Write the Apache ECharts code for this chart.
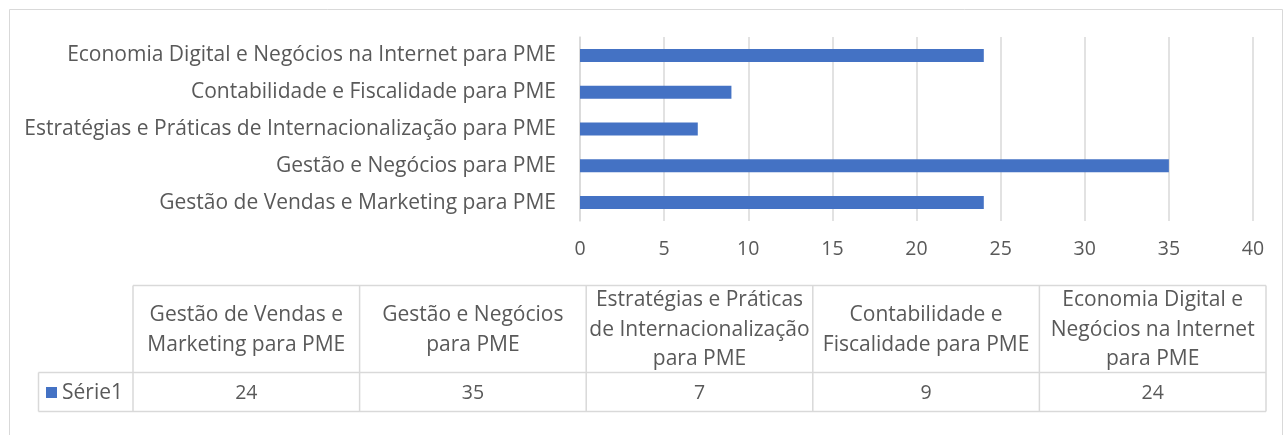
<!DOCTYPE html>
<html>
<head>
<meta charset="utf-8">
<script src="https://cdn.jsdelivr.net/npm/echarts@6/dist/echarts.min.js"></script>
<style>
html,body{margin:0;padding:0;background:#fff;}
#chart{width:1287px;height:435px;}
</style>
</head>
<body>
<div id="chart"></div>
<script>
// ---- data ----
const categories = [
  "Gestão de Vendas e Marketing para PME",
  "Gestão e Negócios para PME",
  "Estratégias e Práticas de Internacionalização para PME",
  "Contabilidade e Fiscalidade para PME",
  "Economia Digital e Negócios na Internet para PME"
];
const tableHeaders = [
  "Gestão de Vendas e\nMarketing para PME",
  "Gestão e Negócios\npara PME",
  "Estratégias e Práticas\nde Internacionalização\npara PME",
  "Contabilidade e\nFiscalidade para PME",
  "Economia Digital e\nNegócios na Internet\npara PME"
];
const seriesName = "Série1";
const values = [24, 35, 7, 9, 24];
const xTicks = [0, 5, 10, 15, 20, 25, 30, 35, 40];

// ---- styles / layout ----
const FONT = "Open Sans";
const FS_TXT = 21;
const FS_NUM = 19.5;
const TXT = "#595959";
const LINE = "#d9d9d9";
const BAR = "#4472c4";

const chart = echarts.init(document.getElementById('chart'), null, {renderer: 'canvas'});

const tLeft = 133, colW = 226.6, hTop = 285.5, hBot = 372.5, dBot = 411.5, legLeft = 38.5;
const g = [];
g.push({type:'rect', shape:{x:9.5,y:9.5,width:1273,height:440}, style:{fill:null, stroke:LINE, lineWidth:1}, silent:true});
const tRight = tLeft + colW * categories.length;
g.push({type:'line', shape:{x1:tLeft,y1:hTop,x2:tRight,y2:hTop}, style:{stroke:LINE,lineWidth:1.5}});
g.push({type:'line', shape:{x1:legLeft,y1:hBot,x2:tRight,y2:hBot}, style:{stroke:LINE,lineWidth:1.5}});
g.push({type:'line', shape:{x1:legLeft,y1:dBot,x2:tRight,y2:dBot}, style:{stroke:LINE,lineWidth:1.5}});
g.push({type:'line', shape:{x1:legLeft,y1:hBot,x2:legLeft,y2:dBot}, style:{stroke:LINE,lineWidth:1.5}});
for (let i = 0; i <= categories.length; i++) {
  const x = tLeft + colW * i;
  g.push({type:'line', shape:{x1:x,y1:hTop,x2:x,y2:dBot}, style:{stroke:LINE,lineWidth:1.5}});
}
tableHeaders.forEach((h, i) => {
  const cx = tLeft + colW * (i + 0.5);
  g.push({type:'text', x:cx, y:(hTop+hBot)/2 + 1, style:{text:h, fill:TXT, font:FS_TXT + 'px ' + FONT, align:'center', verticalAlign:'middle', lineHeight:29.5}});
  g.push({type:'text', x:cx, y:(hBot+dBot)/2 + 1, style:{text:String(values[i]), fill:TXT, font:FS_NUM + 'px ' + FONT, align:'center', verticalAlign:'middle'}});
});
g.push({type:'rect', shape:{x:46,y:(hBot+dBot)/2-5,width:11,height:11}, style:{fill:BAR}});
g.push({type:'text', x:62, y:(hBot+dBot)/2 + 1, style:{text:seriesName, fill:TXT, font:FS_TXT + 'px ' + FONT, align:'left', verticalAlign:'middle'}});

chart.setOption({
  animation: false,
  backgroundColor: '#fff',
  textStyle: {fontFamily: FONT},
  grid: {left: 580, right: 34, top: 37, height: 184, containLabel: false},
  xAxis: {
    type: 'value', min: xTicks[0], max: xTicks[xTicks.length-1], interval: xTicks[1]-xTicks[0],
    axisLine: {show: false}, axisTick: {show: false},
    splitLine: {show: true, lineStyle: {color: LINE, width: 1.5}},
    axisLabel: {color: TXT, fontSize: FS_NUM, fontFamily: FONT, margin: 18}
  },
  yAxis: {
    type: 'category', data: categories,
    axisLine: {show: true, lineStyle: {color: LINE, width: 1.5}},
    axisTick: {show: false},
    axisLabel: {color: TXT, fontSize: FS_TXT, fontFamily: FONT, margin: 24}
  },
  series: [{
    name: seriesName, type: 'bar', data: values, barWidth: 13,
    itemStyle: {color: BAR}
  }],
  graphic: g
});
</script>
</body>
</html>
